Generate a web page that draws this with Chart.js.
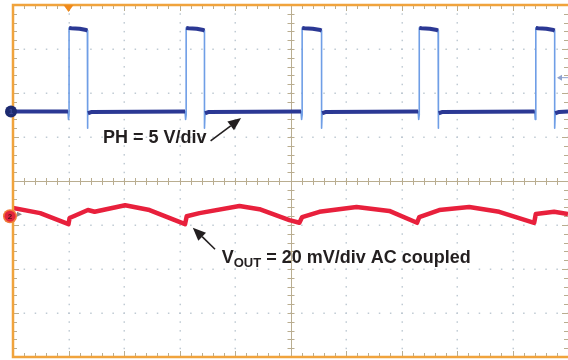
<!DOCTYPE html>
<html>
<head>
<meta charset="utf-8">
<script src="https://cdn.jsdelivr.net/npm/chart.js"></script>
<style>
  html, body { margin: 0; padding: 0; background: #fff; }
  #wrap { width: 568px; height: 360px; }
</style>
</head>
<body>
<div id="wrap"><canvas id="scope" width="568" height="360"></canvas></div>
<script>
// time in divisions (10 div across), level in divisions (8 div high, 0 = centre)
var phTime = [0, 0.99, 1.00, 1.01, 1.01, 1.05, 1.20, 1.32, 1.34, 1.34, 1.35, 1.42,
  3.10, 3.11, 3.12, 3.12, 3.16, 3.31, 3.43, 3.45, 3.45, 3.46, 3.53,
  5.19, 5.20, 5.21, 5.21, 5.25, 5.40, 5.54, 5.56, 5.56, 5.57, 5.64,
  7.30, 7.31, 7.32, 7.32, 7.36, 7.51, 7.64, 7.66, 7.66, 7.67, 7.74,
  9.40, 9.41, 9.42, 9.42, 9.46, 9.61, 9.74, 9.76, 9.76, 9.77, 9.84, 10];
var phLevel = [1.58, 1.58, 1.40, 1.50, 3.48, 3.47, 3.46, 3.43, 3.42, 1.20, 1.54, 1.57,
  1.58, 1.40, 1.50, 3.48, 3.47, 3.46, 3.43, 3.42, 1.20, 1.54, 1.57,
  1.58, 1.40, 1.50, 3.48, 3.47, 3.46, 3.43, 3.42, 1.20, 1.54, 1.57,
  1.58, 1.40, 1.50, 3.48, 3.47, 3.46, 3.43, 3.42, 1.20, 1.54, 1.57,
  1.58, 1.40, 1.50, 3.48, 3.47, 3.46, 3.43, 3.42, 1.20, 1.54, 1.57, 1.58];

var voutTime = [0, 0.49, 1.00, 1.02, 1.35, 1.47, 2.02, 2.46, 3.10, 3.13, 3.36, 4.08, 4.44,
  4.98, 5.16, 5.21, 5.52, 6.19, 6.78, 7.28, 7.32, 7.68, 8.22, 8.76, 9.39, 9.42, 9.75, 10];
var voutLevel = [-0.61, -0.73, -0.98, -0.84, -0.66, -0.70, -0.55, -0.66, -0.98, -0.80, -0.73, -0.57, -0.64,
  -0.89, -0.95, -0.82, -0.70, -0.59, -0.68, -0.95, -0.82, -0.66, -0.59, -0.70, -0.95, -0.75, -0.70, -0.75];

var ch1Offset = 1.58, ch2Offset = -0.80, triggerTime = 1.0, triggerLevel = 2.36;

function toPoints(xs, ys){
    var pts = [];
    for(var i = 0; i < xs.length; i++){
        pts.push({x: xs[i], y: ys[i]});
    }
    return pts;
}

function arrow(c, x0, y0, x1, y1){
    var a = Math.atan2(y1 - y0, x1 - x0), L = 13, W = 5.5;
    var bx = x1 - L * Math.cos(a), by = y1 - L * Math.sin(a);
    c.strokeStyle = '#231f20'; c.fillStyle = '#231f20'; c.lineWidth = 1.6;
    c.beginPath(); c.moveTo(x0, y0); c.lineTo(bx, by); c.stroke();
    c.beginPath();
    c.moveTo(x1, y1);
    c.lineTo(bx + W * Math.sin(a), by - W * Math.cos(a));
    c.lineTo(bx - W * Math.sin(a), by + W * Math.cos(a));
    c.closePath(); c.fill();
}

var graticule = {
    id: 'graticule',
    beforeDatasetsDraw: function(chart){
        var c = chart.ctx, sx = chart.scales.x, sy = chart.scales.y, a = chart.chartArea;
        var px = function(v){ return sx.getPixelForValue(v); };
        var py = function(v){ return sy.getPixelForValue(v); };
        var i, k;
        c.save();
        // dotted division lines
        c.fillStyle = '#bfcad3';
        for(i = 1; i < 10; i++){
            if(i === 5) continue;
            for(k = 0; k <= 40; k++) c.fillRect(Math.round(px(i)) - 0.5, py(-4 + k * 0.2) - 0.5, 1.5, 1.5);
        }
        for(i = -3; i <= 3; i++){
            if(i === 0) continue;
            for(k = 0; k <= 50; k++) c.fillRect(px(k * 0.2) - 0.5, Math.round(py(i)) - 0.5, 1.5, 1.5);
        }
        // centre cross with minor ticks
        c.strokeStyle = '#b9ad90'; c.lineWidth = 1;
        c.beginPath();
        c.moveTo(a.left, Math.round(py(0)) + 0.5); c.lineTo(a.right, Math.round(py(0)) + 0.5);
        c.moveTo(Math.round(px(5)) + 0.5, a.top); c.lineTo(Math.round(px(5)) + 0.5, a.bottom);
        for(k = 0; k <= 50; k++){
            var tx = Math.round(px(k * 0.2)) + 0.5;
            c.moveTo(tx, py(0) - 3); c.lineTo(tx, py(0) + 4);
            c.moveTo(tx, a.top); c.lineTo(tx, a.top + (k % 5 ? 4 : 6));
            c.moveTo(tx, a.bottom); c.lineTo(tx, a.bottom - (k % 5 ? 4 : 6));
        }
        for(k = 0; k <= 40; k++){
            var ty = Math.round(py(-4 + k * 0.2)) + 0.5;
            c.moveTo(px(5) - 3, ty); c.lineTo(px(5) + 4, ty);
            c.moveTo(a.left, ty); c.lineTo(a.left + (k % 5 ? 4 : 6), ty);
            c.moveTo(a.right, ty); c.lineTo(a.right - (k % 5 ? 4 : 6), ty);
        }
        c.stroke();
        c.restore();
    },
    afterDatasetsDraw: function(chart){
        var c = chart.ctx, sx = chart.scales.x, sy = chart.scales.y, a = chart.chartArea;
        var px = function(v){ return sx.getPixelForValue(v); };
        var py = function(v){ return sy.getPixelForValue(v); };
        c.save();
        // orange frame (right side falls just outside the picture)
        c.strokeStyle = '#f0a33c'; c.lineWidth = 2.5;
        c.beginPath();
        c.moveTo(a.right + 3, a.top); c.lineTo(a.left, a.top);
        c.lineTo(a.left, a.bottom); c.lineTo(a.right + 3, a.bottom);
        c.stroke();
        // trigger position marker
        c.fillStyle = '#f08a1c';
        c.beginPath();
        c.moveTo(px(triggerTime) - 5, a.top); c.lineTo(px(triggerTime) + 5, a.top);
        c.lineTo(px(triggerTime), a.top + 7); c.closePath(); c.fill();
        // trigger level marker
        c.strokeStyle = '#8ea2cf'; c.fillStyle = '#8ea2cf'; c.lineWidth = 1;
        c.beginPath(); c.moveTo(a.right - 10, py(triggerLevel) + 0.5); c.lineTo(a.right, py(triggerLevel) + 0.5); c.stroke();
        c.beginPath(); c.moveTo(a.right - 11, py(triggerLevel) + 0.5);
        c.lineTo(a.right - 6, py(triggerLevel) - 2.5); c.lineTo(a.right - 6, py(triggerLevel) + 3.5); c.closePath(); c.fill();
        // channel ground markers
        c.fillStyle = '#1d2a70';
        c.beginPath(); c.arc(a.left - 2, py(ch1Offset), 6, 0, Math.PI * 2); c.fill();
        c.fillStyle = '#3b4a99'; c.font = 'bold 8px "Liberation Sans", Arial, sans-serif';
        c.textAlign = 'center'; c.textBaseline = 'middle';
        c.fillText('1', a.left - 2, py(ch1Offset) + 0.5);
        c.fillStyle = '#f07a3a';
        c.beginPath(); c.arc(a.left - 3, py(ch2Offset), 7, 0, Math.PI * 2); c.fill();
        c.fillStyle = '#e3243c';
        c.beginPath(); c.arc(a.left - 3, py(ch2Offset), 5.5, 0, Math.PI * 2); c.fill();
        c.fillStyle = '#5a1020';
        c.fillText('2', a.left - 3, py(ch2Offset) + 0.5);
        c.fillStyle = '#8a8a8a';
        c.beginPath(); c.moveTo(a.left + 9, py(ch2Offset) - 2); c.lineTo(a.left + 4, py(ch2Offset) - 4.5);
        c.lineTo(a.left + 4, py(ch2Offset) + 0.5); c.closePath(); c.fill();

        // annotations
        c.fillStyle = '#231f20'; c.textAlign = 'left'; c.textBaseline = 'alphabetic';
        c.font = 'bold 18px "Liberation Sans", Arial, sans-serif';
        c.fillText('PH = 5 V/div', px(1.62), py(0.86));
        arrow(c, px(3.56), py(0.91), px(4.11), py(1.43));

        var vx = px(3.76), vy = py(-1.86);
        c.fillText('V', vx, vy);
        var w = c.measureText('V').width;
        c.font = 'bold 13px "Liberation Sans", Arial, sans-serif';
        c.fillText('OUT', vx + w, vy + 4);
        w += c.measureText('OUT').width;
        c.font = 'bold 18px "Liberation Sans", Arial, sans-serif';
        c.fillText(' = 20 mV/div AC coupled', vx + w, vy);
        arrow(c, px(3.64), py(-1.55), px(3.24), py(-1.06));
        c.restore();
    }
};

// switching edges are steep: drawn thin and light, the flat levels thick and dark
var isEdge = function(ctx){ return Math.abs(ctx.p1.parsed.x - ctx.p0.parsed.x) < 0.015; };

var ctx = document.getElementById('scope').getContext('2d');
var scopeChart = new Chart(ctx, {
    type: 'line',
    data: {
        datasets: [{
            label: 'PH',
            data: toPoints(phTime, phLevel),
            borderColor: '#2b3894',
            borderWidth: 4,
            segment: { borderColor: function(c){ return isEdge(c) ? 'transparent' : '#2b3894'; } }
        }, {
            label: 'PH edges',
            data: toPoints(phTime, phLevel),
            borderColor: '#6f9ee6',
            borderWidth: 1.6
        }, {
            label: 'VOUT',
            data: toPoints(voutTime, voutLevel),
            borderColor: '#e8203c',
            borderWidth: 4.5
        }]
    },
    options: {
        responsive: false,
        animation: false,
        devicePixelRatio: 1,
        layout: { padding: { left: 13, top: 5, right: -1, bottom: 3 } },
        elements: { point: { radius: 0 }, line: { tension: 0, borderJoinStyle: 'round' } },
        plugins: { legend: { display: false }, tooltip: { enabled: false } },
        scales: {
            x: { type: 'linear', min: 0, max: 10, display: false },
            y: { type: 'linear', min: -4, max: 4, display: false }
        }
    },
    plugins: [graticule]
});
</script>
</body>
</html>
